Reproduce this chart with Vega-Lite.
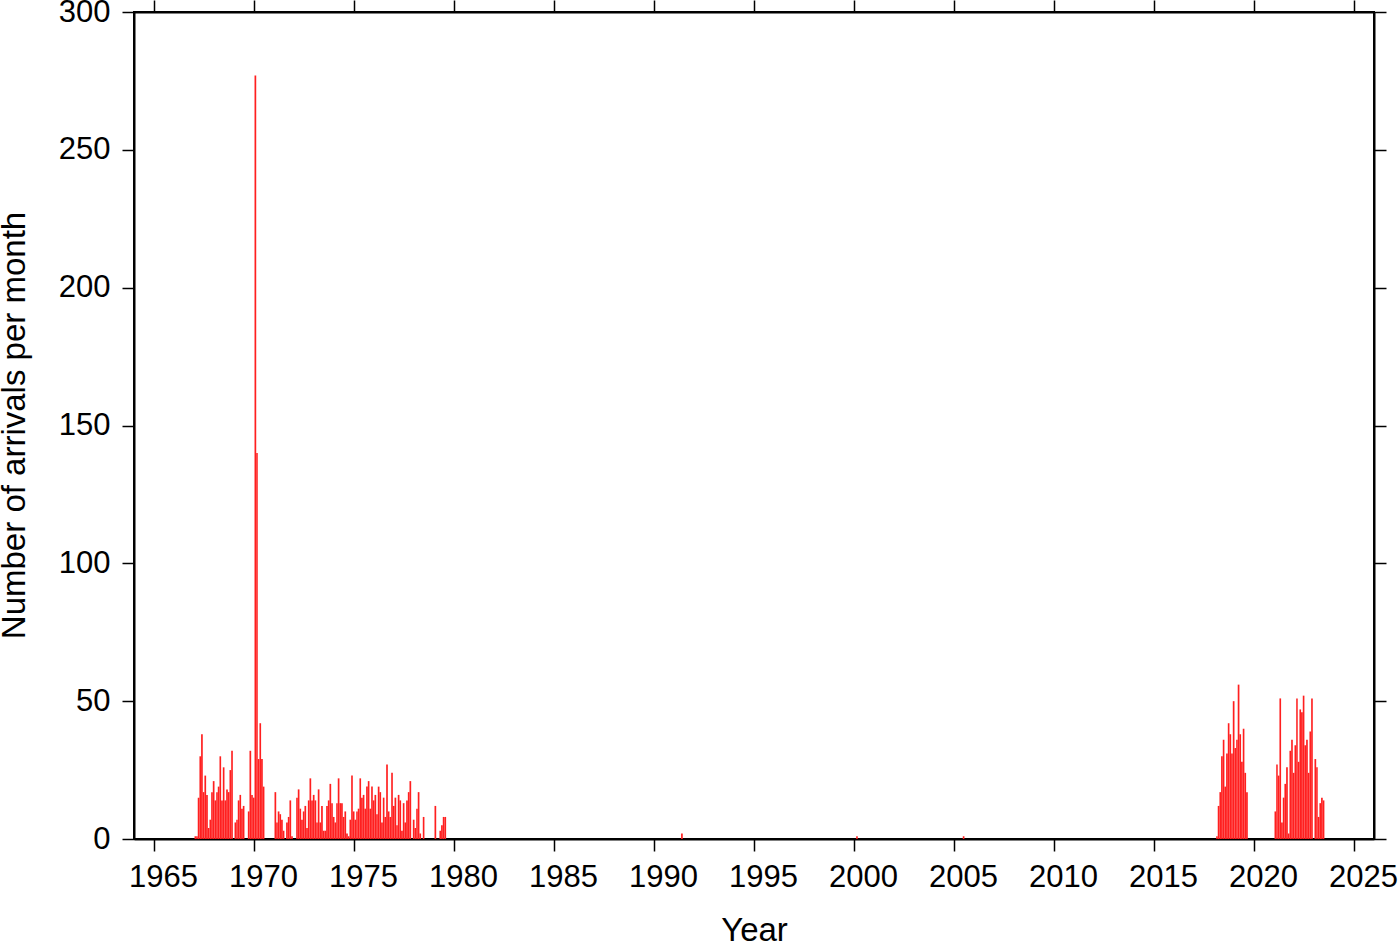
{
  "$schema": "https://vega.github.io/schema/vega-lite/v6.json",
  "width": 1240,
  "height": 827,
  "autosize": {"type": "none"},
  "padding": {"left": 134, "top": 12, "right": 26, "bottom": 103},
  "background": "white",
  "config": {
    "view": {"stroke": "black", "strokeWidth": 2},
    "axis": {
      "grid": false,
      "domainColor": "black",
      "domainWidth": 2,
      "tickColor": "black",
      "tickWidth": 1.5,
      "tickSize": 12,
      "labelFont": "Liberation Sans",
      "labelFontSize": 31,
      "labelColor": "black",
      "titleFont": "Liberation Sans",
      "titleFontSize": 33,
      "titleFontWeight": "normal",
      "titleColor": "black"
    }
  },
  "data": {
    "values": [
      {"month": "1967-01-01", "n": 1}, {"month": "1967-02-01", "n": 1}, {"month": "1967-03-01", "n": 15}, {"month": "1967-04-01", "n": 30},
      {"month": "1967-05-01", "n": 38}, {"month": "1967-06-01", "n": 17}, {"month": "1967-07-01", "n": 23}, {"month": "1967-08-01", "n": 16},
      {"month": "1967-09-01", "n": 4}, {"month": "1967-10-01", "n": 7}, {"month": "1967-11-01", "n": 17}, {"month": "1967-12-01", "n": 21},
      {"month": "1968-01-01", "n": 14}, {"month": "1968-02-01", "n": 17}, {"month": "1968-03-01", "n": 19}, {"month": "1968-04-01", "n": 30},
      {"month": "1968-05-01", "n": 14}, {"month": "1968-06-01", "n": 26}, {"month": "1968-07-01", "n": 14}, {"month": "1968-08-01", "n": 18},
      {"month": "1968-09-01", "n": 17}, {"month": "1968-10-01", "n": 25}, {"month": "1968-11-01", "n": 32},
      {"month": "1969-01-01", "n": 6}, {"month": "1969-02-01", "n": 7}, {"month": "1969-03-01", "n": 14}, {"month": "1969-04-01", "n": 16},
      {"month": "1969-05-01", "n": 11}, {"month": "1969-06-01", "n": 12}, {"month": "1969-09-01", "n": 10}, {"month": "1969-10-01", "n": 32},
      {"month": "1969-11-01", "n": 16}, {"month": "1969-12-01", "n": 15},
      {"month": "1970-01-01", "n": 277}, {"month": "1970-02-01", "n": 140}, {"month": "1970-03-01", "n": 29}, {"month": "1970-04-01", "n": 42},
      {"month": "1970-05-01", "n": 29}, {"month": "1970-06-01", "n": 19},
      {"month": "1971-01-01", "n": 17}, {"month": "1971-02-01", "n": 6}, {"month": "1971-03-01", "n": 10}, {"month": "1971-04-01", "n": 9},
      {"month": "1971-05-01", "n": 7}, {"month": "1971-06-01", "n": 3}, {"month": "1971-08-01", "n": 6}, {"month": "1971-09-01", "n": 8},
      {"month": "1971-10-01", "n": 14}, {"month": "1971-11-01", "n": 1},
      {"month": "1972-02-01", "n": 15}, {"month": "1972-03-01", "n": 18}, {"month": "1972-04-01", "n": 11}, {"month": "1972-05-01", "n": 7},
      {"month": "1972-06-01", "n": 10}, {"month": "1972-07-01", "n": 12}, {"month": "1972-08-01", "n": 4}, {"month": "1972-09-01", "n": 14},
      {"month": "1972-10-01", "n": 22}, {"month": "1972-11-01", "n": 14}, {"month": "1972-12-01", "n": 16},
      {"month": "1973-01-01", "n": 14}, {"month": "1973-02-01", "n": 6}, {"month": "1973-03-01", "n": 18}, {"month": "1973-04-01", "n": 6},
      {"month": "1973-05-01", "n": 12}, {"month": "1973-06-01", "n": 3}, {"month": "1973-07-01", "n": 3}, {"month": "1973-08-01", "n": 12},
      {"month": "1973-09-01", "n": 14}, {"month": "1973-10-01", "n": 20}, {"month": "1973-11-01", "n": 13}, {"month": "1973-12-01", "n": 8},
      {"month": "1974-01-01", "n": 6}, {"month": "1974-02-01", "n": 13}, {"month": "1974-03-01", "n": 22}, {"month": "1974-04-01", "n": 13},
      {"month": "1974-05-01", "n": 13}, {"month": "1974-06-01", "n": 8}, {"month": "1974-07-01", "n": 10}, {"month": "1974-08-01", "n": 2},
      {"month": "1974-09-01", "n": 1}, {"month": "1974-10-01", "n": 7}, {"month": "1974-11-01", "n": 23}, {"month": "1974-12-01", "n": 10},
      {"month": "1975-01-01", "n": 7}, {"month": "1975-02-01", "n": 10}, {"month": "1975-03-01", "n": 11}, {"month": "1975-04-01", "n": 22},
      {"month": "1975-05-01", "n": 15}, {"month": "1975-06-01", "n": 16}, {"month": "1975-07-01", "n": 11}, {"month": "1975-08-01", "n": 19},
      {"month": "1975-09-01", "n": 21}, {"month": "1975-10-01", "n": 11}, {"month": "1975-11-01", "n": 19}, {"month": "1975-12-01", "n": 14},
      {"month": "1976-01-01", "n": 16}, {"month": "1976-02-01", "n": 9}, {"month": "1976-03-01", "n": 19}, {"month": "1976-04-01", "n": 17},
      {"month": "1976-05-01", "n": 6}, {"month": "1976-06-01", "n": 15}, {"month": "1976-07-01", "n": 8}, {"month": "1976-08-01", "n": 27},
      {"month": "1976-09-01", "n": 10}, {"month": "1976-10-01", "n": 8}, {"month": "1976-11-01", "n": 24}, {"month": "1976-12-01", "n": 12},
      {"month": "1977-01-01", "n": 15}, {"month": "1977-02-01", "n": 5}, {"month": "1977-03-01", "n": 16}, {"month": "1977-04-01", "n": 14},
      {"month": "1977-05-01", "n": 3}, {"month": "1977-06-01", "n": 13}, {"month": "1977-07-01", "n": 6}, {"month": "1977-08-01", "n": 14},
      {"month": "1977-09-01", "n": 17}, {"month": "1977-10-01", "n": 21}, {"month": "1977-12-01", "n": 7},
      {"month": "1978-01-01", "n": 4}, {"month": "1978-02-01", "n": 11}, {"month": "1978-03-01", "n": 17}, {"month": "1978-04-01", "n": 2},
      {"month": "1978-06-01", "n": 8},
      {"month": "1979-01-01", "n": 12}, {"month": "1979-04-01", "n": 3}, {"month": "1979-05-01", "n": 5}, {"month": "1979-06-01", "n": 8},
      {"month": "1979-07-01", "n": 8},
      {"month": "1991-05-01", "n": 2},
      {"month": "2000-02-01", "n": 1},
      {"month": "2005-06-01", "n": 1},
      {"month": "2018-02-01", "n": 1}, {"month": "2018-03-01", "n": 12}, {"month": "2018-04-01", "n": 17}, {"month": "2018-05-01", "n": 30},
      {"month": "2018-06-01", "n": 36}, {"month": "2018-07-01", "n": 19}, {"month": "2018-08-01", "n": 31}, {"month": "2018-09-01", "n": 42},
      {"month": "2018-10-01", "n": 38}, {"month": "2018-11-01", "n": 31}, {"month": "2018-12-01", "n": 50},
      {"month": "2019-01-01", "n": 33}, {"month": "2019-02-01", "n": 36}, {"month": "2019-03-01", "n": 56}, {"month": "2019-04-01", "n": 38},
      {"month": "2019-05-01", "n": 28}, {"month": "2019-06-01", "n": 40}, {"month": "2019-07-01", "n": 24}, {"month": "2019-08-01", "n": 17},
      {"month": "2021-01-01", "n": 10}, {"month": "2021-02-01", "n": 27}, {"month": "2021-03-01", "n": 23}, {"month": "2021-04-01", "n": 51},
      {"month": "2021-05-01", "n": 6}, {"month": "2021-06-01", "n": 15}, {"month": "2021-07-01", "n": 20}, {"month": "2021-08-01", "n": 26},
      {"month": "2021-09-01", "n": 2}, {"month": "2021-10-01", "n": 32}, {"month": "2021-11-01", "n": 36}, {"month": "2021-12-01", "n": 24},
      {"month": "2022-01-01", "n": 34}, {"month": "2022-02-01", "n": 51}, {"month": "2022-03-01", "n": 28}, {"month": "2022-04-01", "n": 47},
      {"month": "2022-05-01", "n": 46}, {"month": "2022-06-01", "n": 52}, {"month": "2022-07-01", "n": 34}, {"month": "2022-08-01", "n": 36},
      {"month": "2022-09-01", "n": 24}, {"month": "2022-10-01", "n": 39}, {"month": "2022-11-01", "n": 51},
      {"month": "2023-01-01", "n": 29}, {"month": "2023-02-01", "n": 26}, {"month": "2023-03-01", "n": 8}, {"month": "2023-04-01", "n": 13},
      {"month": "2023-05-01", "n": 15}, {"month": "2023-06-01", "n": 14}
    ]
  },
  "layer": [
    {
      "mark": {"type": "bar", "color": "#ff1f1f", "binSpacing": 0},
      "encoding": {
        "x": {
          "field": "month", "type": "temporal", "timeUnit": "utcyearmonth",
          "scale": {"domain": [{"year": 1964, "month": 1, "date": 1, "utc": true}, {"year": 2026, "month": 1, "date": 1, "utc": true}]},
          "axis": {
            "orient": "bottom", "title": "Year",
            "labelExpr": "utcFormat(datum.value, '%Y')",
            "values": [{"year": 1965, "utc": true}, {"year": 1970, "utc": true}, {"year": 1975, "utc": true}, {"year": 1980, "utc": true},
                       {"year": 1985, "utc": true}, {"year": 1990, "utc": true}, {"year": 1995, "utc": true}, {"year": 2000, "utc": true},
                       {"year": 2005, "utc": true}, {"year": 2010, "utc": true}, {"year": 2015, "utc": true}, {"year": 2020, "utc": true},
                       {"year": 2025, "utc": true}],
            "labelPadding": 11, "labelOffset": 9, "labelFlush": false, "labelOverlap": false,
            "titleX": 620, "titleY": 101, "titleBaseline": "alphabetic"
          }
        },
        "y": {
          "field": "n", "type": "quantitative",
          "scale": {"domain": [0, 300], "nice": false},
          "axis": {
            "orient": "left", "title": "Number of arrivals per month",
            "values": [0, 50, 100, 150, 200, 250, 300],
            "labelPadding": 12, "labelFlush": false, "labelOverlap": false,
            "titleX": -110, "titleY": 413, "titleBaseline": "alphabetic"
          }
        }
      }
    },
    {
      "mark": {"type": "bar", "opacity": 0, "binSpacing": 0},
      "encoding": {
        "x": {
          "field": "month", "type": "temporal", "timeUnit": "utcyearmonth",
          "axis": {
            "orient": "top", "title": null, "labels": false,
            "values": [{"year": 1965, "utc": true}, {"year": 1970, "utc": true}, {"year": 1975, "utc": true}, {"year": 1980, "utc": true},
                       {"year": 1985, "utc": true}, {"year": 1990, "utc": true}, {"year": 1995, "utc": true}, {"year": 2000, "utc": true},
                       {"year": 2005, "utc": true}, {"year": 2010, "utc": true}, {"year": 2015, "utc": true}, {"year": 2020, "utc": true},
                       {"year": 2025, "utc": true}]
          }
        },
        "y": {
          "field": "n", "type": "quantitative",
          "axis": {"orient": "right", "title": null, "labels": false, "values": [0, 50, 100, 150, 200, 250, 300]}
        }
      }
    }
  ],
  "resolve": {"axis": {"x": "independent", "y": "independent"}}
}
